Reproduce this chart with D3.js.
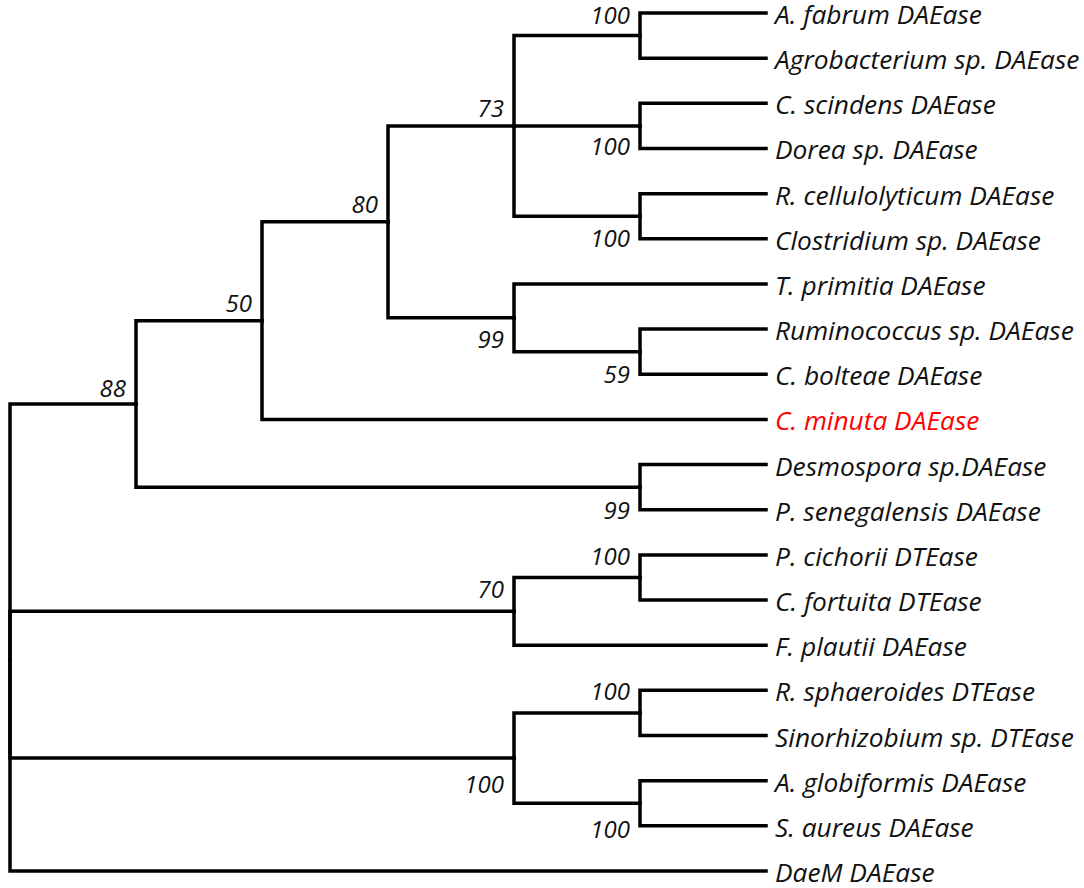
<!DOCTYPE html>
<html>
<head>
<meta charset="utf-8">
<script src="https://cdn.jsdelivr.net/npm/d3@7"></script>
<style>
  body { margin: 0; background: #fff; }
  svg text { font-family: "Open Sans", sans-serif; font-style: italic; }
</style>
</head>
<body>
<svg width="1084" height="888"></svg>
<script>
// tree nodes, listed depth first (ids, parents, bootstrap support)
var nodeNames = [
  "root", "n88", "n50", "n80", "n73",
  "nFab", "A. fabrum DAEase", "Agrobacterium sp. DAEase",
  "nScin", "C. scindens DAEase", "Dorea sp. DAEase",
  "nRcell", "R. cellulolyticum DAEase", "Clostridium sp. DAEase",
  "n99", "T. primitia DAEase", "n59", "Ruminococcus sp. DAEase", "C. bolteae DAEase",
  "C. minuta DAEase",
  "nDesmo", "Desmospora sp.DAEase", "P. senegalensis DAEase",
  "n70", "nPcich", "P. cichorii DTEase", "C. fortuita DTEase", "F. plautii DAEase",
  "n100", "nRsph", "R. sphaeroides DTEase", "Sinorhizobium sp. DTEase",
  "nAglob", "A. globiformis DAEase", "S. aureus DAEase",
  "DaeM DAEase"
];
var parentNames = [
  null, "root", "n88", "n50", "n80",
  "n73", "nFab", "nFab",
  "n73", "nScin", "nScin",
  "n73", "nRcell", "nRcell",
  "n80", "n99", "n99", "n59", "n59",
  "n50",
  "n88", "nDesmo", "nDesmo",
  "root", "n70", "nPcich", "nPcich", "n70",
  "root", "n100", "nRsph", "nRsph",
  "n100", "nAglob", "nAglob",
  "root"
];
var supportValues = [
  null, 88, 50, 80, 73,
  100, null, null,
  100, null, null,
  100, null, null,
  99, null, 59, null, null,
  null,
  99, null, null,
  70, 100, null, null, null,
  100, 100, null, null,
  100, null, null,
  null
];
var highlighted = ["C. minuta DAEase"];

// where each support label sits relative to its node (baseline offset)
var labelDy = {
  n88: -7, n50: -9, n80: -9, n73: -9,
  nFab: -12, nScin: 29, nRcell: 31, n99: 30, n59: 31, nDesmo: 32,
  n70: -13, nPcich: -12, n100: 35, nRsph: -13, nAglob: 35
};

var svg = d3.select("svg");

var table = nodeNames.map(function(d, i) {
  return { id: d, parent: parentNames[i], support: supportValues[i] };
});

var root = d3.stratify()
  .id(d => d.id)
  .parentId(d => d.parent)(table);

// cladogram: leaves aligned, evenly spaced
d3.cluster().size([1, 1]).separation(() => 1)(root);

var leaves = root.leaves();
var yScale = d3.scaleLinear()
  .domain([leaves[0].x, leaves[leaves.length - 1].x])
  .range([13, 871]);
var xScale = d3.scaleLinear()
  .domain([0, 1])
  .range([10, 766]);

var g = svg.append("g");

// elbow branches
g.selectAll(".link")
  .data(root.links())
  .enter()
  .append("path")
  .attr("class", "link")
  .attr("fill", "none")
  .attr("stroke", "#000")
  .attr("stroke-width", 3.5)
  .attr("stroke-linecap", "square")
  .attr("d", function(l) {
    return "M" + xScale(l.source.y) + "," + yScale(l.source.x) +
      "V" + yScale(l.target.x) + "H" + xScale(l.target.y);
  });

// leaf names
g.selectAll(".leaf")
  .data(leaves)
  .enter()
  .append("text")
  .attr("class", "leaf")
  .attr("x", d => xScale(d.y) + 9)
  .attr("y", d => yScale(d.x) + 11)
  .attr("font-size", 26.3)
  .attr("fill", d => highlighted.includes(d.id) ? "#ff0000" : "#111")
  .text(d => d.id);

// bootstrap values
g.selectAll(".support")
  .data(root.descendants().filter(d => d.data.support != null))
  .enter()
  .append("text")
  .attr("class", "support")
  .attr("x", d => xScale(d.y) - 10)
  .attr("y", d => yScale(d.x) + labelDy[d.id])
  .attr("text-anchor", "end")
  .attr("font-size", 24)
  .attr("fill", "#111")
  .text(d => d.data.support);
</script>
</body>
</html>
